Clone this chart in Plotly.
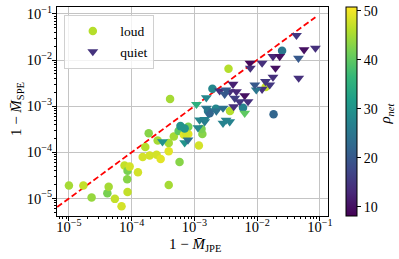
import plotly.graph_objects as go

# ---- data: 1 - M_JPE (x), 1 - M_SPE (y), rho_net (colour) ----
loud_x = [1.0e-5, 1.7e-5, 2.3e-5, 4.1e-5, 4.3e-5, 5.4e-5, 6.9e-5, 7.7e-5, 8.5e-5, 8.6e-5,
          8.6e-5, 9.3e-5, 1.26e-4, 1.5e-4, 1.65e-4, 1.87e-4, 1.94e-4, 2.5e-4, 2.6e-4, 2.9e-4,
          3.9e-4, 3.9e-4, 3.9e-4, 4.7e-4, 5.8e-4, 5.6e-4, 6.0e-4, 6.8e-4, 8.0e-4, 8.0e-4,
          1.18e-3, 4.1e-4, 1.34e-3, 1.3e-3, 7.4e-4, 3.5e-3, 1.94e-3, 0.025, 0.0183, 0.0137,
          3.7e-3, 2.2e-3, 1.65e-3, 5.96e-3, 1.75e-3, 7.0e-4]
loud_y = [1.9e-5, 1.9e-5, 1.05e-5, 1.3e-5, 1.8e-5, 9.8e-6, 6.8e-6, 5.2e-5, 2.6e-5, 4.0e-5,
          1.38e-5, 4.9e-5, 3.7e-5, 7.9e-5, 1.3e-4, 2.6e-4, 8.5e-5, 8.9e-5, 1.8e-4, 7.2e-5,
          1.6e-4, 1.05e-4, 1.95e-5, 2.2e-4, 6.2e-5, 2.9e-4, 3.7e-4, 2.4e-4, 2.5e-4, 3.6e-4,
          1.4e-4, 1.44e-3, 2.5e-4, 3.2e-4, 2.6e-4, 6.5e-3, 2.4e-3, 0.016, 6.7e-4, 2.6e-3,
          7.9e-4, 8.8e-4, 7.9e-4, 9.3e-4, 7.0e-4, 3.3e-4]
loud_rho = [45, 47, 44, 42, 45, 47, 48, 47, 43, 42,
            47, 48, 48, 48, 46, 43, 48, 48, 45, 49,
            45, 49, 45, 45, 43, 40, 30, 49, 49, 42,
            48, 45, 43, 42, 48, 46, 28, 25, 22, 47,
            46, 28, 26, 27, 22, 30]

quiet_x = [0.0424, 0.056, 0.085, 0.0456, 0.0179, 0.0229, 0.0120, 0.0077, 0.0196, 0.0078,
           0.046, 0.0179, 0.0136, 0.0159, 0.0120, 0.0097, 0.0092, 0.00413, 0.00366, 0.00253,
           0.00304, 0.00468, 0.00634, 0.00716, 0.0044, 0.00528, 0.00424, 0.00155, 0.00286, 0.00634,
           0.00121, 0.00146, 0.00286, 0.00366, 3.1e-4, 7.0e-4, 1.14e-3, 1.46e-3, 1.08e-3, 2.24e-3,
           3.2e-3, 3.2e-3, 7.9e-4, 1.55e-3]
quiet_y = [0.0343, 0.0168, 0.0182, 0.0110, 0.0120, 0.0120, 0.0086, 0.0086, 0.0067, 0.0067,
           0.00406, 0.00427, 0.00343, 0.0029, 0.00234, 0.00226, 0.0029, 0.0030, 0.00207, 0.00215,
           0.00182, 0.00207, 0.0017, 0.00126, 0.00149, 0.00126, 0.00098, 0.00091, 0.00091, 0.000705,
           0.000504, 0.00046, 0.000427, 0.00046, 1.7e-4, 1.62e-4, 3.43e-4, 5.2e-4, 1.1e-3, 7.9e-4,
           2.26e-3, 5.0e-4, 1.85e-4, 1.53e-3]
quiet_rho = [15, 10, 14, 20, 13, 10, 14, 9, 10, 14,
             14, 14, 15, 15, 14, 25, 20, 12, 14, 14,
             20, 13, 10, 14, 16, 15, 14, 25, 24, 40,
             28, 26, 27, 27, 30, 30, 28, 27, 35, 24,
             20, 27, 24, 28]

diag = [6.5e-6, 8.5e-2]

rho_min, rho_max = 8.1, 50.8
x_range = [-5.19, -0.87]
y_range = [-5.38, -0.85]
tick_vals = [1e-5, 1e-4, 1e-3, 1e-2, 1e-1]
tick_text = ["10<sup>−5</sup>", "10<sup>−4</sup>", "10<sup>−3</sup>", "10<sup>−2</sup>", "10<sup>−1</sup>"]
cbar_ticks = [10, 20, 30, 40, 50]

FONT = "Liberation Serif"

fig = go.Figure()

fig.add_trace(go.Scatter(
    x=diag, y=diag, mode="lines", showlegend=False, hoverinfo="skip",
    line=dict(color="red", width=1.8, dash="6px,3px")))

fig.add_trace(go.Scatter(
    x=loud_x, y=loud_y, mode="markers", name="loud", showlegend=False,
    marker=dict(symbol="circle", size=8.5, color=loud_rho, colorscale="Viridis",
                cmin=rho_min, cmax=rho_max, line=dict(width=0),
                colorbar=dict(
                    x=1.065, xanchor="left", xpad=0, y=0.5, yanchor="middle", len=1.0, ypad=0,
                    thickness=11, outlinecolor="black", outlinewidth=1,
                    tickvals=cbar_ticks, ticks="outside", ticklen=4, tickcolor="black",
                    tickfont=dict(family=FONT, size=14, color="black")))))

fig.add_trace(go.Scatter(
    x=quiet_x, y=quiet_y, mode="markers", name="quiet", showlegend=False,
    marker=dict(symbol="triangle-down", size=9.5, color=quiet_rho, colorscale="Viridis",
                cmin=rho_min, cmax=rho_max, line=dict(width=0), showscale=False)))

# legend entries
fig.add_trace(go.Scatter(x=[None], y=[None], mode="markers", name="loud",
                         marker=dict(symbol="circle", size=8.5, color="#b5de2b")))
fig.add_trace(go.Scatter(x=[None], y=[None], mode="markers", name="quiet",
                         marker=dict(symbol="triangle-down", size=9.5, color="#45337d")))

axis_common = dict(
    type="log", tickvals=tick_vals, ticktext=tick_text, ticks="outside", ticklen=4,
    tickcolor="black", showline=True, linecolor="black", linewidth=1, mirror=True,
    showgrid=True, gridcolor="#c4c4c4", gridwidth=1, zeroline=False, automargin=False,
    tickfont=dict(family=FONT, size=14.5, color="black"),
    minor=dict(ticks="outside", ticklen=2, tickcolor="black", showgrid=False, dtick="D1"),
)

fig.update_xaxes(range=x_range, ticklabelstandoff=-6, **axis_common)
fig.update_yaxes(range=y_range, ticklabelstandoff=-3, **axis_common)

fig.update_layout(
    width=399, height=259,
    margin=dict(l=57, r=71, t=7, b=43, autoexpand=False),
    paper_bgcolor="white", plot_bgcolor="white",
    font=dict(family=FONT, size=13, color="black"),
    legend=dict(x=0.027, y=0.963, xanchor="left", yanchor="top",
                bgcolor="rgba(255,255,255,0.8)", bordercolor="#d0d0d0", borderwidth=1,
                font=dict(family=FONT, size=13.5, color="black"), itemwidth=45,
                tracegroupgap=0),
    annotations=[
        dict(text="1 − <i>M̄</i><sub>JPE</sub>", xref="paper", yref="paper",
             x=0.51, y=-0.14, xanchor="center", yanchor="middle", showarrow=False,
             font=dict(family=FONT, size=15, color="black")),
        dict(text="1 − <i>M̄</i><sub>SPE</sub>", xref="paper", yref="paper",
             x=-0.145, y=0.51, xanchor="center", yanchor="middle", showarrow=False,
             textangle=-90, font=dict(family=FONT, size=15, color="black")),
        dict(text="<i>ρ</i><sub><i>net</i></sub>", xref="paper", yref="paper",
             x=(386 - 57) / 271, y=0.49, xanchor="center", yanchor="middle", showarrow=False,
             textangle=-90, font=dict(family=FONT, size=15, color="black")),
    ],
)

fig.write_html("out.html", config={"displayModeBar": False},
               post_script="document.body.style.margin='0';document.body.style.overflow='hidden';")
